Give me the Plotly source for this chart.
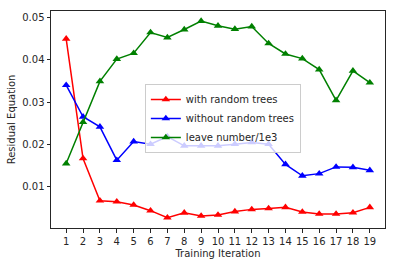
import plotly.graph_objects as go

iterations = list(range(1, 20))
with_random_trees = [0.0450, 0.0166, 0.00657, 0.00634, 0.00556, 0.00421, 0.00255, 0.00370, 0.00296,
                     0.00320, 0.00400, 0.00452, 0.00475, 0.00500, 0.00390, 0.00343, 0.00343, 0.00374, 0.00500]
without_random_trees = [0.0340, 0.0265, 0.0241, 0.0162, 0.0206, 0.0200, 0.0218, 0.0196, 0.0196,
                        0.0196, 0.0200, 0.0204, 0.0200, 0.0152, 0.0125, 0.0130, 0.0146, 0.0145, 0.0138]
leave_number = [0.0154, 0.0252, 0.0349, 0.0402, 0.0416, 0.0465, 0.0453, 0.0472, 0.0492,
                0.0481, 0.0473, 0.0479, 0.0439, 0.0414, 0.0403, 0.0377, 0.0304, 0.0374, 0.0346]
names = ["with random trees", "without random trees", "leave number/1e3"]
colors = ["#ff0000", "#0000ff", "#008000"]

fig = go.Figure()
for name, vals, c in zip(names, [with_random_trees, without_random_trees, leave_number], colors):
    fig.add_trace(go.Scatter(x=iterations, y=vals, name=name, mode="lines+markers",
                             line=dict(color=c, width=1.5),
                             marker=dict(symbol="triangle-up", size=7.5, color=c)))

font = dict(family="DejaVu Sans", size=10, color="#262626")
axis_common = dict(showgrid=False, zeroline=False, showline=True, linecolor="#262626", linewidth=1,
                   mirror=True, ticks="outside", ticklen=3.5, tickwidth=0.8, tickcolor="#262626",
                   tickfont=font, automargin=False)
fig.update_layout(
    width=396, height=266,
    margin=dict(l=51, r=11, t=11, b=38),
    paper_bgcolor="white", plot_bgcolor="white",
    font=font,
    showlegend=True,
    legend=dict(x=0.281, y=0.505, xanchor="left", yanchor="middle",
                bgcolor="rgba(255,255,255,0.8)", bordercolor="#cccccc", borderwidth=1,
                font=dict(family="DejaVu Sans", size=10, color="#262626"),
                tracegroupgap=0, itemwidth=30),
    xaxis=dict(range=[0.1, 19.9], tickmode="array", tickvals=iterations,
               ticktext=[str(i) for i in iterations],
               title=dict(text="Training Iteration", font=font, standoff=4), **axis_common),
    yaxis=dict(range=[0.0001, 0.0516], tickmode="array", tickvals=[0.01, 0.02, 0.03, 0.04, 0.05],
               ticktext=["0.01", "0.02", "0.03", "0.04", "0.05"],
               title=dict(text="Residual Equation", font=font, standoff=4), **axis_common),
)
fig.write_html("out.html", config={"displayModeBar": False},
               post_script="document.body.style.margin='0';")
